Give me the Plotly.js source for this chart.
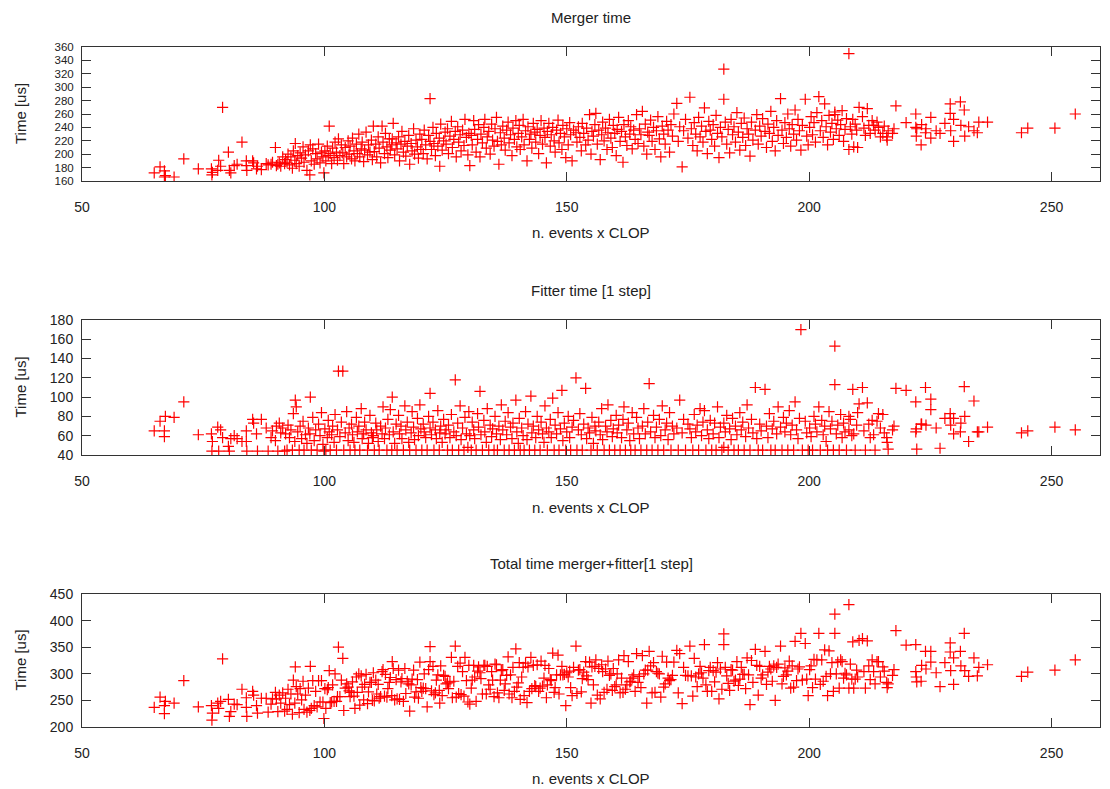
<!DOCTYPE html>
<html>
<head>
<meta charset="utf-8">
<script src="https://cdn.plot.ly/plotly-3.0.1.min.js"></script>
<style>html,body{margin:0;padding:0;background:#fff;}#chart{width:1110px;height:789px;}</style>
</head>
<body>
<div id="chart"></div>
<script>
// n. events x CLOP (shared by the three panels)
const eventsX = [
64.9,66.1,67.0,67.0,67.2,69.0,71.0,74.0,76.7,76.8,
76.9,78.0,78.2,78.6,79.0,80.2,80.4,80.7,81.4,82.0,
83.0,83.9,83.9,84.0,85.2,85.4,86.0,86.2,87.0,88.0,
88.4,89.0,89.3,89.9,90.1,90.4,90.7,91.0,91.4,91.8,
92.0,92.3,92.5,92.8,93.1,93.4,93.6,93.9,94.0,94.2,
94.5,94.8,95.0,95.3,95.6,95.8,96.1,96.4,96.7,97.0,
97.1,97.3,97.6,97.9,98.2,98.5,98.8,99.1,99.4,99.7,
99.9,100.1,100.3,100.6,100.8,101.0,101.2,101.5,101.7,102.0,
102.2,102.5,102.7,102.9,103.2,103.5,103.8,104.0,104.3,104.6,
104.9,105.1,105.3,105.6,105.8,106.1,106.3,106.6,106.8,107.1,
107.3,107.6,107.8,108.1,108.3,108.6,108.9,109.1,109.4,109.7,
109.9,110.1,110.3,110.6,110.8,111.1,111.3,111.6,111.9,112.1,
112.4,112.6,112.9,113.1,113.4,113.6,113.9,114.0,114.2,114.5,
114.8,115.0,115.3,115.5,115.8,116.0,116.3,116.6,116.8,117.1,
117.4,117.6,117.9,118.1,118.4,118.6,118.9,119.2,119.4,119.7,
119.9,120.1,120.4,120.6,120.9,121.2,121.5,121.8,121.8,122.1,
122.4,122.6,122.9,123.1,123.4,123.7,123.8,124.0,124.3,124.6,
124.9,125.1,125.4,125.6,125.9,126.2,126.4,126.7,127.0,127.2,
127.5,127.7,128.0,128.2,128.5,128.8,129.0,129.3,129.6,129.8,
130.0,130.3,130.5,130.8,131.0,131.3,131.6,131.8,132.1,132.3,
132.6,132.9,133.1,133.4,133.6,133.9,134.2,134.5,134.7,135.0,
135.2,135.5,135.7,136.0,136.3,136.5,136.8,137.1,137.3,137.6,
137.9,138.1,138.4,138.7,138.9,139.2,139.5,139.7,140.0,140.2,
140.4,140.7,141.0,141.2,141.5,141.8,142.0,142.3,142.6,142.8,
143.1,143.4,143.6,143.9,144.2,144.5,144.7,145.0,145.3,145.5,
145.8,146.0,146.3,146.6,146.8,147.1,147.4,147.6,147.9,148.2,
148.4,148.7,149.0,149.2,149.5,149.8,150.0,150.3,150.6,150.8,
151.1,151.4,151.9,152.1,152.4,152.7,153.0,153.2,153.5,153.9,
154.1,154.4,154.7,155.0,155.2,155.5,155.8,156.0,156.3,156.6,
156.9,157.2,157.4,157.7,158.0,158.3,158.5,158.8,159.1,159.4,
159.6,159.9,160.2,160.4,160.7,161.0,161.3,161.6,161.8,162.1,
162.4,162.7,163.0,163.2,163.5,163.8,164.1,164.4,164.7,165.0,
165.3,165.6,165.9,166.2,166.5,166.7,167.0,167.3,167.6,167.9,
168.2,168.5,168.8,169.1,169.4,169.7,170.0,170.3,170.6,170.9,
171.2,171.5,171.8,172.1,172.7,173.0,173.3,173.8,174.1,174.5,
175.0,175.4,175.7,176.0,176.3,176.6,176.9,177.2,177.5,177.8,
178.1,178.4,178.7,179.0,179.3,179.6,179.9,180.2,180.5,180.8,
181.1,181.4,181.7,182.0,182.4,182.4,182.7,183.0,183.3,183.6,
183.9,184.2,184.5,184.8,185.1,185.4,185.7,186.0,186.3,186.6,
186.9,187.2,187.5,187.8,188.1,188.4,188.9,189.2,189.5,189.8,
190.1,190.4,190.9,191.2,191.5,191.8,192.1,192.4,192.7,193.0,
193.3,193.6,194.1,194.4,194.7,195.0,195.3,195.6,195.9,196.2,
196.5,196.8,197.1,197.4,197.7,198.0,198.3,198.6,199.2,199.5,
199.8,200.1,200.4,200.7,201.0,201.3,201.6,202.0,202.3,202.6,
202.9,203.2,203.5,203.8,204.1,204.4,204.7,205.0,205.3,205.3,
205.6,205.9,206.2,206.5,206.8,207.1,207.4,207.7,208.2,208.2,
208.5,208.8,209.0,209.2,209.5,209.8,210.0,210.3,211.0,211.3,
211.6,212.0,212.3,212.6,213.0,213.3,213.6,214.0,214.3,214.7,
215.2,215.5,216.0,216.1,216.3,217.2,217.5,217.9,220.0,222.0,
222.0,222.1,222.2,223.1,223.2,224.0,224.1,225.1,225.1,226.2,
227.0,228.0,229.1,229.1,229.2,229.8,229.8,231.2,231.3,232.0,
232.1,232.9,234.0,234.7,235.0,236.8,243.8,245.1,250.7,254.9
];

// Merger time [us]
const mergerTime = [
172,181,175,166,168,166,193,178,178,169,
173,176,191,182,270,203,176,172,183,185,
218,190,183,176,190,187,178,182,177,186,
184,185,188,210,183,185,187,182,196,186,
192,188,200,184,196,179,205,191,216,186,
198,182,202,194,211,188,199,176,205,169,
214,190,208,185,201,193,215,187,203,196,
172,205,190,212,198,242,201,186,209,195,
218,203,191,223,198,214,202,186,210,196,
220,200,212,193,224,205,190,215,201,230,
196,208,218,189,206,233,199,214,203,221,
192,242,204,215,196,226,209,187,242,218,
201,231,211,195,223,206,214,223,246,199,
217,208,226,190,215,234,203,219,197,212,
228,185,216,205,238,200,221,211,194,230,
207,222,201,236,214,193,228,283,219,207,
240,216,198,231,212,224,182,245,206,220,
233,215,238,201,227,249,210,222,234,196,
241,218,229,205,236,213,252,225,199,231,
183,228,214,250,237,203,222,244,196,230,
217,240,252,209,226,234,200,245,221,212,
238,255,219,185,232,214,242,224,206,236,
248,217,229,198,239,222,250,211,231,243,
207,226,252,214,235,190,241,222,230,209,
246,233,218,237,201,228,250,215,239,225,
187,234,246,212,229,240,220,203,236,251,
217,231,207,243,226,195,238,214,247,229,
190,236,232,218,241,225,205,246,231,214,
239,221,259,200,234,227,244,261,215,236,
192,229,248,220,239,207,232,252,224,210,
243,231,198,237,255,219,234,188,244,226,
213,250,230,241,208,236,222,259,216,238,
229,264,212,245,200,233,228,251,219,240,
207,235,256,223,196,242,230,215,249,236,
203,244,227,260,276,219,241,181,235,252,
224,285,238,213,247,230,205,255,226,242,
218,269,234,201,249,236,222,244,212,258,
231,195,240,226,327,282,248,215,237,202,
252,229,241,218,262,233,206,246,225,254,
213,238,230,197,248,221,236,259,215,242,
227,253,234,210,245,231,264,219,240,205,
250,228,283,236,216,247,225,260,238,212,
244,230,266,221,252,235,206,243,282,227,
214,240,256,229,247,218,262,286,235,250,
225,275,241,214,258,233,246,222,259,263,
238,251,228,244,265,219,237,253,350,207,
241,230,252,211,245,236,210,270,256,239,
228,268,243,231,250,243,236,248,240,226,
231,242,226,221,235,231,238,272,247,260,
240,227,238,214,244,232,238,255,224,235,
231,246,275,261,235,252,219,278,243,266,
227,241,235,232,248,248,232,239,239,260
];

// Fitter time [1 step] [us]
const fitterTime = [
65,75,65,59,80,79,95,61,62,44,
54,69,44,66,58,49,44,57,60,57,
54,65,54,44,77,73,62,44,77,68,
44,58,65,55,70,44,73,63,68,44,
62,45,71,58,66,45,83,54,97,90,
64,45,70,57,75,45,61,52,68,62,
100,45,79,55,66,45,72,60,84,51,
44,67,45,58,76,64,45,61,70,53,
82,45,66,127,59,74,127,45,63,85,
55,68,45,72,61,53,45,79,64,70,
45,88,57,62,74,66,45,52,81,63,
58,60,45,73,66,54,45,70,62,90,
57,68,45,77,61,87,45,100,64,52,
72,45,81,62,70,57,45,91,66,74,
53,45,63,85,69,56,45,78,60,92,
67,45,72,64,58,45,80,68,104,61,
74,45,66,57,86,45,63,70,53,77,
62,66,45,71,58,82,45,64,118,60,
73,45,91,56,68,45,79,62,48,85,
60,45,74,66,57,45,83,69,106,61,
45,76,64,53,88,45,71,59,67,45,
80,62,45,70,56,92,66,45,75,61,
84,45,69,57,73,45,97,64,52,78,
45,68,60,45,85,56,72,45,101,63,
70,45,58,80,66,45,74,62,53,91,
68,45,64,77,58,99,45,71,62,84,
45,67,107,55,73,45,64,80,58,45,
69,76,120,45,66,83,61,45,72,109,
57,68,63,45,79,52,70,65,45,74,
61,88,56,45,70,64,92,45,76,59,
67,45,81,63,71,45,58,77,90,45,
66,73,55,45,84,62,45,79,68,57,
45,70,88,62,45,74,114,64,45,81,
58,69,45,77,60,91,45,66,73,56,
84,45,70,62,68,45,97,63,77,45,
72,67,58,45,82,64,71,45,88,60,
74,86,45,66,57,76,45,62,73,45,
90,58,69,45,48,73,64,81,45,67,
56,78,45,70,61,45,84,66,74,45,
59,92,68,45,77,63,110,57,45,72,
65,45,108,70,58,83,45,67,75,45,
62,90,69,45,79,64,73,45,86,61,
71,45,95,66,57,78,170,45,75,63,
45,68,59,45,80,72,64,90,45,76,
61,70,54,45,85,67,75,45,153,113,
62,71,45,82,58,73,64,45,80,66,
77,60,108,62,45,71,84,93,110,65,
45,94,72,58,76,61,45,75,83,68,
82,63,58,53,46,66,70,109,107,95,
64,67,46,72,72,110,71,87,98,68,
47,78,83,78,71,78,62,64,73,111,
80,54,96,64,64,69,63,65,69,66
];

// Total time merger+fitter [1 step] [us]
const totalTime = [
237,256,240,225,248,245,287,238,240,213,
226,245,235,248,328,252,220,229,243,242,
271,255,237,220,267,260,240,226,254,254,
228,243,253,265,253,229,260,245,264,230,
254,233,271,242,262,224,288,245,313,276,
262,227,272,251,286,233,260,228,273,231,
314,235,287,240,267,238,287,247,287,247,
216,272,235,270,274,306,246,247,279,248,
300,248,257,350,257,288,329,231,273,281,
275,268,257,265,285,258,235,294,265,300,
241,296,275,251,280,299,244,266,284,284,
250,302,249,288,262,280,254,257,304,308,
258,299,256,272,284,293,259,323,310,251,
289,253,307,252,285,291,248,310,263,286,
281,230,279,290,307,256,266,289,254,322,
274,267,273,300,272,238,308,351,323,268,
314,261,264,288,298,269,245,315,259,297,
295,281,283,272,285,331,255,286,352,256,
314,263,320,261,304,258,331,287,247,316,
243,273,288,316,294,248,305,313,302,291,
262,316,316,262,314,279,271,304,288,257,
318,317,264,255,288,306,308,269,281,297,
332,262,298,255,312,267,347,275,283,321,
252,294,312,259,320,246,313,267,331,272,
316,278,276,317,267,273,324,277,292,316,
255,279,310,289,287,339,265,274,298,335,
262,298,314,298,299,240,302,294,305,274,
259,312,352,263,307,308,266,291,303,323,
296,289,322,245,313,279,314,326,260,310,
253,317,304,265,309,271,324,297,300,269,
310,276,279,300,326,264,292,265,334,271,
279,323,285,286,292,298,267,338,284,295,
274,334,300,307,245,307,342,315,264,321,
265,304,301,300,256,333,275,281,322,292,
287,289,297,322,344,264,338,244,312,297,
296,352,296,258,329,294,276,300,314,302,
292,355,279,267,306,312,267,306,285,303,
321,253,309,271,375,355,312,296,282,269,
308,307,286,288,323,278,290,312,299,299,
272,330,298,242,325,284,346,316,260,314,
292,298,342,280,303,314,309,286,315,250,
312,318,352,281,295,311,298,305,324,273,
315,275,361,287,309,313,376,288,357,290,
259,308,315,274,327,290,326,376,280,326,
286,345,295,259,343,300,321,267,412,376,
300,322,273,326,323,292,301,298,430,273,
318,290,360,273,290,307,294,363,366,304,
273,362,315,289,326,304,281,323,323,294,
313,305,284,274,281,297,308,381,354,355,
304,294,285,286,316,342,309,342,322,302,
276,321,358,341,306,330,280,342,315,376,
306,295,330,296,312,317,295,303,307,326
];

const panelTitles = ["Merger time", "Fitter time [1 step]", "Total time merger+fitter[1 step]"];
const xTitle = "n. events x CLOP";
const yTitle = "Time [us]";
const xTicks = [50, 100, 150, 200, 250];

const TXT = '#222222';
const AX = '#333333';
const FONT = 'Liberation Sans, Arial, Helvetica, sans-serif';

function marker() {
  return {symbol: 'cross-thin-open', size: 8, color: '#ff0000', line: {color: '#ff0000', width: 1.2}};
}
const traces = [
  {x: eventsX, y: mergerTime, xaxis: 'x', yaxis: 'y'},
  {x: eventsX, y: fitterTime, xaxis: 'x2', yaxis: 'y2'},
  {x: eventsX, y: totalTime, xaxis: 'x3', yaxis: 'y3'}
].map(t => Object.assign(t, {type: 'scatter', mode: 'markers', marker: marker(), hoverinfo: 'skip', cliponaxis: true}));

function xAxis(anchor) {
  return {
    anchor: anchor, domain: [0, 1], range: [50, 260], tickvals: xTicks,
    showline: true, linecolor: AX, linewidth: 1, mirror: 'ticks',
    ticks: 'inside', ticklen: 9, tickwidth: 1, tickcolor: AX,
    showgrid: false, zeroline: false, ticklabelstandoff: 13,
    tickfont: {family: FONT, size: 14, color: TXT}
  };
}
function yAxis(anchor, domain, range, dtick, fs) {
  return {
    anchor: anchor, domain: domain, range: range, tick0: range[0], dtick: dtick,
    showline: true, linecolor: AX, linewidth: 1, mirror: 'ticks',
    ticks: 'inside', ticklen: 9, tickwidth: 1, tickcolor: AX,
    showgrid: false, zeroline: false, ticklabelstandoff: 5,
    tickfont: {family: FONT, size: fs, color: TXT}
  };
}

const H = 789;
function py(p) { return 1 - p / H; }
const plotW = 1018;
function px(p) { return (p - 82) / plotW; }

const annFont = {family: FONT, size: 15, color: TXT};
const annotations = [];
[[17, 232, 114], [290, 507, 387.5], [563, 778, 660.5]].forEach((r, i) => {
  annotations.push({text: panelTitles[i], xref: 'paper', yref: 'paper', x: 0.5, y: py(r[0]), xanchor: 'center', yanchor: 'middle', showarrow: false, font: annFont});
  annotations.push({text: xTitle, xref: 'paper', yref: 'paper', x: 0.5, y: py(r[1]), xanchor: 'center', yanchor: 'middle', showarrow: false, font: annFont});
  annotations.push({text: yTitle, xref: 'paper', yref: 'paper', x: px(20), y: py(r[2]), xanchor: 'center', yanchor: 'middle', textangle: -90, showarrow: false, font: annFont});
});

const layout = {
  width: 1110, height: 789,
  margin: {l: 82, r: 10, t: 0, b: 0},
  paper_bgcolor: '#ffffff', plot_bgcolor: '#ffffff',
  showlegend: false,
  font: {family: FONT, size: 15, color: TXT},
  xaxis: xAxis('y'),
  yaxis: yAxis('x', [py(181), py(47)], [160, 360], 20, 11.5),
  xaxis2: xAxis('y2'),
  yaxis2: yAxis('x2', [py(455), py(320)], [40, 180], 20, 14),
  xaxis3: xAxis('y3'),
  yaxis3: yAxis('x3', [py(727), py(594)], [200, 450], 50, 14),
  annotations: annotations
};

Plotly.newPlot('chart', traces, layout, {displayModeBar: false, staticPlot: true});
</script>
</body>
</html>
